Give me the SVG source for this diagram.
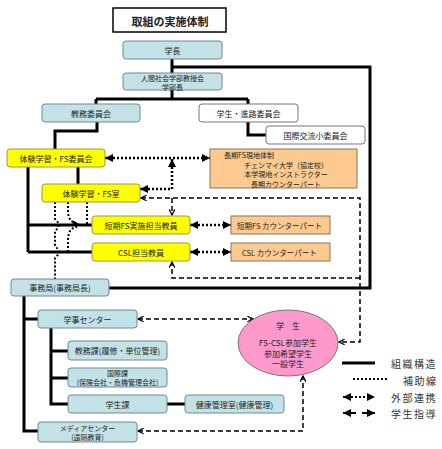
<svg xmlns="http://www.w3.org/2000/svg" width="442" height="449" viewBox="0 0 442 449">
<style>
text{font-family:"Noto Sans CJK JP","Noto Sans",sans-serif;font-size:8px;fill:#222;text-anchor:middle;dominant-baseline:central}
.blue{fill:#c3e2e7;stroke:#6f8a90;stroke-width:1}
.white{fill:#fff;stroke:#777;stroke-width:1}
.yel{fill:#ffff00;stroke:#9a9a40;stroke-width:1}
.peach{fill:#fcc98f;stroke:#8a7560;stroke-width:1}
.thick{fill:none;stroke:#000;stroke-width:3}
.dot{fill:none;stroke:#000;stroke-width:2.5;stroke-dasharray:2 2}
.dash{fill:none;stroke:#000;stroke-width:1.5;stroke-dasharray:5 3}
.leg{text-anchor:start;font-size:10px;letter-spacing:1.5px;fill:#333}
.two{font-size:7px}
</style>
<defs>
<marker id="tri" viewBox="0 0 10 10" refX="10" refY="5" markerWidth="8" markerHeight="8" markerUnits="userSpaceOnUse" orient="auto-start-reverse"><path d="M0,0L10,5L0,10z" fill="#000"/></marker>
<marker id="tris" viewBox="0 0 10 10" refX="10" refY="5" markerWidth="6" markerHeight="6" markerUnits="userSpaceOnUse" orient="auto-start-reverse"><path d="M0,0L10,5L0,10z" fill="#000"/></marker>
<marker id="opn" viewBox="0 0 10 10" refX="9" refY="5" markerWidth="7" markerHeight="7" markerUnits="userSpaceOnUse" orient="auto-start-reverse"><path d="M1,1L9,5L1,9" fill="none" stroke="#000" stroke-width="1.8"/></marker>
</defs>

<g id="title"><rect x="113" y="8" width="113" height="24" fill="#fff" stroke="#000" stroke-width="1.5"/><text x="170" y="21" style="font-size:11px;font-weight:bold">取組の実施体制</text></g>

<g id="connectors">
<path class="thick" d="M172,59V73M172,67H370V288H109"/>
<path class="thick" d="M172,90V99M96,99H248M96,99V104M248,99V104"/>
<path class="thick" d="M248,122V135H266"/>
<path class="thick" d="M97,122V131H55V149"/>
<path class="thick" d="M28,167V252M78,167V184M28,225H92M28,252H92"/>
<path class="thick" d="M24,296V431H38M24,319H38"/>
<path class="thick" d="M51,328V404H68M51,351H68M51,378H68"/>
<path class="thick" d="M167,404H185"/>

<path class="dot" d="M105,158H210" marker-start="url(#tri)" marker-end="url(#tri)"/>
<path class="dot" d="M172,159V189H140" marker-start="url(#tri)" marker-end="url(#tri)"/>
<path class="dot" d="M190,225H231" marker-start="url(#tri)" marker-end="url(#tri)"/>
<path class="dot" d="M190,252H231" marker-start="url(#tri)" marker-end="url(#tri)"/>

<path class="dot" style="stroke-width:2" d="M55,202V219Q62,225 55,231V246Q62,252 55,258V279"/>
<path class="dot" style="stroke-width:2" d="M68,202V211Q68,223 79,224" marker-end="url(#tris)"/>
<path class="dot" style="stroke-width:2" d="M68,252V240Q68,228 77,227"/>
<path class="dot" style="stroke-width:2" d="M87,202V224"/>

<path class="dash" d="M141,198H360V342H339" marker-start="url(#opn)" marker-end="url(#opn)"/>
<path class="dash" d="M360,278H172V262" marker-end="url(#opn)"/>
<path class="dash" d="M172,198V215" marker-end="url(#opn)"/>
<path class="dash" d="M138,319H253" marker-start="url(#opn)" marker-end="url(#opn)"/>
<path class="dash" d="M138,431H303V376" marker-start="url(#opn)" marker-end="url(#opn)"/>
</g>

<g id="gakucho"><rect class="blue" x="123" y="41" width="99" height="18" rx="3"/><text x="172.5" y="50">学長</text></g>
<g id="kyojukai"><rect class="blue" x="123" y="73" width="99" height="17" rx="3"/><text class="two" x="172.5" y="77.5">人間社会学部教授会<tspan x="172.5" dy="9">学部長</tspan></text></g>
<g id="kyomu-iinkai"><rect class="blue" x="42" y="104" width="98" height="18" rx="3"/><text x="91" y="113">教務委員会</text></g>
<g id="gakusei-shinro"><rect class="white" x="199" y="104" width="99" height="18" rx="3"/><text x="248.5" y="113">学生・進路委員会</text></g>
<g id="kokusai-koryu"><rect class="white" x="266" y="126" width="99" height="18" rx="3"/><text x="315.5" y="135">国際交流小委員会</text></g>
<g id="fs-iinkai"><rect class="yel" x="7" y="149" width="98" height="18" rx="3"/><text x="56" y="158">体験学習・FS委員会</text></g>
<g id="choki-fs"><rect class="peach" x="210" y="149" width="147" height="39"/><text class="two" x="224" y="155" style="text-anchor:start">長期FS現地体制</text><text class="two" x="286" y="165">チェンマイ大学（協定校）<tspan x="286" dy="9.3">本学現地インストラクター</tspan><tspan x="286" dy="9.3">長期カウンターパート</tspan></text></g>
<g id="fs-shitsu"><rect class="yel" x="42" y="184" width="98" height="18" rx="3"/><text x="91" y="193">体験学習・FS室</text></g>
<g id="tanki-fs"><rect class="yel" x="92" y="216" width="98" height="18" rx="3"/><text x="141" y="225">短期FS実施担当教員</text></g>
<g id="csl"><rect class="yel" x="92" y="243" width="98" height="18" rx="3"/><text x="141" y="252">CSL担当教員</text></g>
<g id="tanki-cp"><rect class="peach" x="231" y="216" width="99" height="18"/><text style="font-size:7.5px;text-anchor:start" x="237" y="225">短期FS  カウンターパート</text></g>
<g id="csl-cp"><rect class="peach" x="231" y="243" width="99" height="18"/><text style="font-size:7.5px;text-anchor:start" x="242" y="252">CSL  カウンターパート</text></g>
<g id="jimukyoku"><rect class="blue" x="11" y="279" width="98" height="17" rx="3"/><text x="60" y="287.5">事務局(事務局長)</text></g>
<g id="gakuji"><rect class="blue" x="38" y="310" width="99" height="18" rx="3"/><text x="87.5" y="319">学事センター</text></g>
<g id="kyomuka"><rect class="blue" x="68" y="341" width="99" height="19" rx="3"/><text x="117.5" y="350.5">教務課(履修・単位管理)</text></g>
<g id="kokusaika"><rect class="blue" x="68" y="368" width="99" height="19" rx="3"/><text class="two" x="117.5" y="373">国際課<tspan x="117.5" dy="9">(保険会社・危機管理会社)</tspan></text></g>
<g id="gakuseika"><rect class="blue" x="68" y="395" width="99" height="18" rx="3"/><text x="117.5" y="404">学生課</text></g>
<g id="kenko"><rect class="blue" x="185" y="395" width="99" height="18" rx="3"/><text x="234.5" y="404">健康管理室(健康管理)</text></g>
<g id="media"><rect class="blue" x="38" y="422" width="99" height="20" rx="3"/><text class="two" x="87.5" y="427.5">メディアセンター<tspan x="87.5" dy="9.5">(遠隔教育)</tspan></text></g>
<g id="gakusei"><ellipse cx="288" cy="343" rx="50" ry="33" fill="#ff99cc" stroke="#777" stroke-width="1"/><text x="288" y="325">学　生</text><text x="288" y="342">FS-CSL参加学生<tspan x="288" dy="11">参加希望学生</tspan><tspan x="288" dy="10">一般学生</tspan></text></g>

<g id="legend">
<path class="thick" d="M342,363H375"/>
<path class="dot" style="stroke-width:2" d="M353,379H388"/>
<path class="dot" style="stroke-width:2" d="M343,397H375" marker-start="url(#tri)" marker-end="url(#tri)"/>
<path fill="none" stroke="#000" stroke-width="2" d="M343,413H356" marker-start="url(#tri)"/>
<path fill="none" stroke="#000" stroke-width="2" d="M362,413H375" marker-end="url(#tri)"/>
<text class="leg" x="391" y="363">組織構造</text>
<text class="leg" x="403" y="380">補助線</text>
<text class="leg" x="391" y="397">外部連携</text>
<text class="leg" x="391" y="413">学生指導</text>
</g>
</svg>
